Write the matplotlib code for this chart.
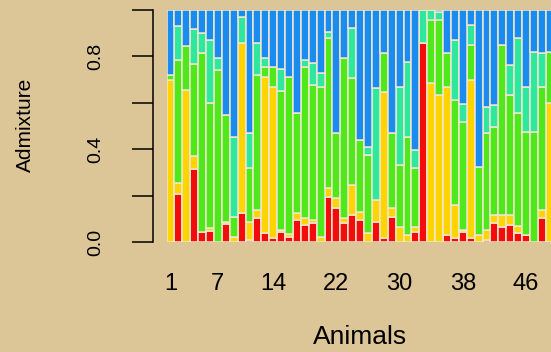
import matplotlib
matplotlib.use("Agg")
import matplotlib.pyplot as plt
import numpy as np

plt.rcParams["font.family"] = ["Liberation Sans", "DejaVu Sans"]

# ancestry proportions per animal, one list per cluster (bottom to top)
red = [0, 0.205, 0, 0.315, 0.045, 0.047, 0, 0.076, 0, 0.124,
       0.01, 0.102, 0.037, 0.016, 0.045, 0.023, 0.095, 0.073, 0.08, 0,
       0.195, 0.145, 0.08, 0.116, 0.095, 0, 0.088, 0.016, 0.109, 0,
       0, 0.045, 0.856, 0, 0, 0.03, 0.016, 0.045, 0.016, 0,
       0.009, 0.08, 0.066, 0.073, 0.037, 0.03, 0, 0.102, 0]
gold = [0.70, 0.048, 0.655, 0.057, 0, 0.015, 0, 0.012, 0.023, 0.732,
        0.078, 0.036, 0.676, 0.654, 0.005, 0.01, 0.029, 0.029, 0.015, 0.023,
        0.036, 0.043, 0.022, 0.13, 0.036, 0.037, 0.093, 0.632, 0.036, 0.066,
        0.03, 0.021, 0, 0.684, 0.634, 0.64, 0.143, 0.005, 0.682, 0.03,
        0.043, 0.036, 0.05, 0.043, 0.03, 0, 0, 0.036, 0.6]
green = [0.02, 0.531, 0.19, 0.394, 0.768, 0.536, 0.741, 0.459, 0.086, 0,
         0.23, 0.582, 0.04, 0.086, 0.603, 0.68, 0.431, 0.654, 0.582, 0.647,
         0.647, 0.28, 0.69, 0.459, 0.309, 0.338, 0, 0.165, 0.323, 0.266,
         0.424, 0.252, 0, 0.273, 0.323, 0.143, 0.453, 0.466, 0.151, 0.295,
         0.416, 0.381, 0.733, 0.518, 0.488, 0.445, 0.476, 0.532, 0.22]
aqua = [0, 0.148, 0, 0.152, 0.087, 0.273, 0.051, 0, 0.345, 0.115,
        0.15, 0.136, 0.04, 0, 0.093, 0, 0, 0.028, 0.093, 0.057,
        0.029, 0, 0, 0.216, 0, 0.036, 0.481, 0, 0, 0.338,
        0.323, 0.079, 0.144, 0.043, 0.033, 0, 0.259, 0.08, 0.086, 0,
        0.115, 0.094, 0, 0.129, 0.323, 0.195, 0.344, 0.143, 0]
blue = [0.28, 0.068, 0.155, 0.082, 0.10, 0.129, 0.208, 0.453, 0.546, 0.029,
        0.532, 0.144, 0.207, 0.244, 0.254, 0.287, 0.445, 0.216, 0.23, 0.273,
        0.093, 0.532, 0.208, 0.079, 0.56, 0.589, 0.338, 0.187, 0.532, 0.33,
        0.223, 0.603, 0, 0, 0.01, 0.187, 0.129, 0.404, 0.065, 0.675,
        0.417, 0.409, 0.151, 0.237, 0.122, 0.33, 0.18, 0.187, 0.18]

clusters = [red, gold, green, aqua, blue]
colors = ["#f20c0c", "#ffd400", "#4fe81a", "#2ee89e", "#1a8cf0"]

animal_ticks = [1, 7, 14, 22, 30, 38, 46]
y_ticks = [0.0, 0.2, 0.4, 0.6, 0.8, 1.0]
y_labels = ["0.0", "", "0.4", "", "0.8", ""]

paper = "#dcc597"

fig = plt.figure(figsize=(5.51, 3.52), dpi=100, facecolor=paper)
ax = fig.add_axes([166.5 / 551, 110 / 352, 384.5 / 551, 232 / 352])
ax.set_facecolor("none")

x = np.arange(1, len(red) + 1)
bottom = np.zeros(len(red))
for vals, col in zip(clusters, colors):
    vals = np.array(vals)
    ax.bar(x, vals, width=1.0, bottom=bottom, color=col,
           edgecolor="#efe7cf", linewidth=1.1)
    bottom += vals

ax.set_xlim(0.5, 0.5 + 384.5 / 7.9)
ax.set_ylim(0, 1)

for s in ["top", "right", "bottom"]:
    ax.spines[s].set_visible(False)
ax.spines["left"].set_position(("outward", 10))
ax.spines["left"].set_bounds(0, 1)
ax.spines["left"].set_linewidth(1.1)

ax.set_yticks(y_ticks)
ax.set_yticklabels(y_labels, rotation=90, va="center", fontsize=14)
ax.tick_params(axis="y", length=15, width=1.1, pad=20)

ax.set_xticks(animal_ticks)
ax.set_xticklabels([str(t) for t in animal_ticks], fontsize=17)
ax.tick_params(axis="x", length=0, pad=22)

fig.text(25 / 551, 1 - 125 / 352, "Admixture", rotation=90,
         ha="center", va="center", fontsize=15)
fig.text(360 / 551, 1 - 337 / 352, "Animals",
         ha="center", va="center", fontsize=19)

fig.savefig("out.png", dpi=100, facecolor=paper)
